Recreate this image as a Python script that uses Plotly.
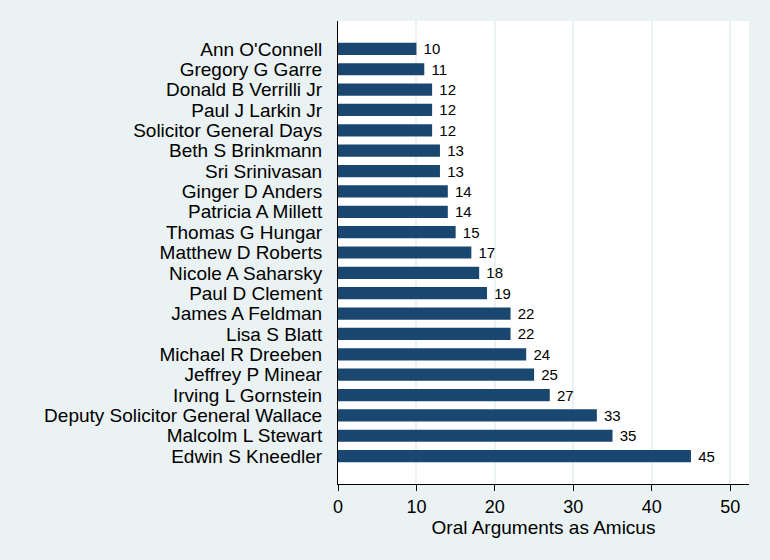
import plotly.graph_objects as go

names = ["Ann O'Connell", "Gregory G Garre", "Donald B Verrilli Jr", "Paul J Larkin Jr",
         "Solicitor General Days", "Beth S Brinkmann", "Sri Srinivasan", "Ginger D Anders",
         "Patricia A Millett", "Thomas G Hungar", "Matthew D Roberts", "Nicole A Saharsky",
         "Paul D Clement", "James A Feldman", "Lisa S Blatt", "Michael R Dreeben",
         "Jeffrey P Minear", "Irving L Gornstein", "Deputy Solicitor General Wallace",
         "Malcolm L Stewart", "Edwin S Kneedler"]
counts = [10, 11, 12, 12, 12, 13, 13, 14, 14, 15, 17, 18, 19, 22, 22, 24, 25, 27, 33, 35, 45]
x_ticks = [0, 10, 20, 30, 40, 50]

FONT = "Arial, Liberation Sans, sans-serif"
BG = "#EAF2F3"

fig = go.Figure(go.Bar(
    x=counts, y=names, orientation="h",
    marker=dict(color="#1a476f", line=dict(width=0)),
    width=0.6,
    text=counts, texttemplate=" %{x}", textposition="outside",
    constraintext="none",
    outsidetextfont=dict(family=FONT, size=15, color="#000000"),
    cliponaxis=False,
))

fig.update_layout(
    width=770, height=560,
    margin=dict(l=338, r=21, t=21, b=76),
    paper_bgcolor=BG, plot_bgcolor="white",
    showlegend=False,
    font=dict(family=FONT, color="#000000"),
    xaxis=dict(
        range=[0, 52.4], tickvals=x_ticks, ticks="outside", ticklen=6,
        tickcolor="black", tickwidth=1,
        showline=True, linecolor="black", linewidth=1,
        showgrid=True, gridcolor=BG, gridwidth=2, zeroline=False,
        tickfont=dict(size=18),
        title=dict(text="Oral Arguments as Amicus", font=dict(size=19), standoff=0),
    ),
    yaxis=dict(
        categoryorder="array", categoryarray=names,
        tickmode="array", tickvals=names, ticktext=names,
        range=[len(names) - 1 + 1.37, -1.37],
        showline=True, linecolor="black", linewidth=1,
        ticks="", showgrid=False, zeroline=False,
        tickfont=dict(size=19), ticklabelstandoff=11,
    ),
)

fig.write_html("out.html", config={"displayModeBar": False},
               post_script="document.body.style.margin='0px';document.body.style.background='#EAF2F3';")
